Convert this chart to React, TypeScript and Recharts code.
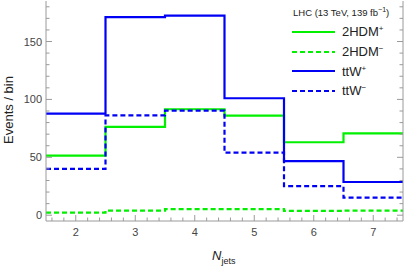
import { LineChart, Line, XAxis, YAxis } from "recharts";

const binEdges = [1.5, 2.5, 3.5, 4.5, 5.5, 6.5, 7.5];
const hdmPlus = [51.4, 76.3, 91.5, 86, 63, 70.6];
const hdmMinus = [2.3, 4, 5.2, 5.2, 3.7, 4];
const ttwPlus = [87.8, 171, 172.4, 101, 46.7, 28.7];
const ttwMinus = [40, 86.3, 90.4, 54, 25.2, 15.2];

const xMajor = [2, 3, 4, 5, 6, 7];
const yMajor = [0, 50, 100, 150];

const GREEN = "#00f000";
const BLUE = "#0000f5";
const AXIS = "#9a9a9a";
const TEXT = "#444";
const FONT = "'Liberation Sans', Arial, sans-serif";

const X_DOMAIN: [number, number] = [1.5, 7.5];
const Y_DOMAIN: [number, number] = [-5, 185];

// minor ticks every 0.2 on x and every 10 on y
const xTicks: number[] = [];
for (let i = 0; i <= 29; i++) xTicks.push(Math.round((1.6 + i * 0.2) * 10) / 10);
const yTicks: number[] = [];
for (let v = 0; v <= 180; v += 10) yTicks.push(v);

const data = binEdges.map((x, i) => {
  const k = Math.min(i, hdmPlus.length - 1);
  return {
    x,
    hdmPlus: hdmPlus[k],
    hdmMinus: hdmMinus[k],
    ttwPlus: ttwPlus[k],
    ttwMinus: ttwMinus[k],
  };
});

const series = [
  { key: "hdmPlus", name: "2HDM", sup: "+", color: GREEN, dash: undefined },
  { key: "hdmMinus", name: "2HDM", sup: "\u2212", color: GREEN, dash: "5 3" },
  { key: "ttwPlus", name: "ttW", sup: "+", color: BLUE, dash: undefined },
  { key: "ttwMinus", name: "ttW", sup: "\u2212", color: BLUE, dash: "5 3" },
];

function makeXTick(side: "bottom" | "top") {
  return (props: any) => {
    const { x, y, payload } = props;
    const v = payload.value;
    const major = xMajor.some((m) => Math.abs(m - v) < 1e-6);
    const len = major ? 6 : 3.5;
    const dir = side === "bottom" ? -1 : 1;
    return (
      <g>
        <line x1={x} x2={x} y1={y} y2={y + dir * len} stroke={AXIS} strokeWidth={1} />
        {major && side === "bottom" && (
          <text x={x} y={y + 15} textAnchor="middle" fontSize={11} fill={TEXT} fontFamily={FONT}>
            {v}
          </text>
        )}
      </g>
    );
  };
}

function makeYTick(side: "left" | "right") {
  return (props: any) => {
    const { x, y, payload } = props;
    const v = payload.value;
    const major = yMajor.includes(v);
    const len = major ? 6 : 3.5;
    const dir = side === "left" ? 1 : -1;
    return (
      <g>
        <line x1={x} x2={x + dir * len} y1={y} y2={y} stroke={AXIS} strokeWidth={1} />
        {major && side === "left" && (
          <text x={x - 4} y={y + 4} textAnchor="end" fontSize={11} fill={TEXT} fontFamily={FONT}>
            {v}
          </text>
        )}
      </g>
    );
  };
}

function LegendBox() {
  return (
    <div style={{ position: "absolute", left: 291, top: 6, fontFamily: FONT, color: "#222" }}>
      <div style={{ fontSize: 9.5, marginLeft: 2, height: 16 }}>
        LHC (13 TeV, 139 fb<sup style={{ fontSize: 7 }}>{"\u22121"}</sup>)
      </div>
      {series.map((s) => (
        <div key={s.key} style={{ display: "flex", alignItems: "center", height: 19.7 }}>
          <svg width={46} height={6} style={{ marginRight: 5 }}>
            <line x1={1} x2={44} y1={3} y2={3} stroke={s.color} strokeWidth={2} strokeDasharray={s.dash} />
          </svg>
          <span style={{ fontSize: 13 }}>
            {s.name}
            <sup style={{ fontSize: 8 }}>{s.sup}</sup>
          </span>
        </div>
      ))}
    </div>
  );
}

export default function App() {
  return (
    <div style={{ position: "absolute", left: 0, top: 0, width: 405, height: 266, background: "#fff" }}>
      <LineChart width={405} height={266} data={data} margin={{ top: 1, right: 1, bottom: 0, left: 0 }}>
        <XAxis
          xAxisId="b"
          dataKey="x"
          type="number"
          domain={X_DOMAIN}
          ticks={xTicks}
          interval={0}
          allowDataOverflow
          tickSize={0}
          tickMargin={0}
          tickLine={false}
          axisLine={{ stroke: AXIS }}
          tick={makeXTick("bottom")}
          height={45}
        />
        <XAxis
          xAxisId="t"
          orientation="top"
          dataKey="x"
          type="number"
          domain={X_DOMAIN}
          ticks={xTicks}
          interval={0}
          allowDataOverflow
          tickSize={0}
          tickMargin={0}
          tickLine={false}
          axisLine={{ stroke: AXIS }}
          tick={makeXTick("top")}
          height={0}
        />
        <YAxis
          yAxisId="l"
          type="number"
          domain={Y_DOMAIN}
          ticks={yTicks}
          interval={0}
          allowDataOverflow
          tickSize={0}
          tickMargin={0}
          tickLine={false}
          axisLine={{ stroke: AXIS }}
          tick={makeYTick("left")}
          width={46}
        />
        <YAxis
          yAxisId="r"
          orientation="right"
          type="number"
          domain={Y_DOMAIN}
          ticks={yTicks}
          interval={0}
          allowDataOverflow
          tickSize={0}
          tickMargin={0}
          tickLine={false}
          axisLine={{ stroke: AXIS }}
          tick={makeYTick("right")}
          width={1}
        />
        {series.map((s) => (
          <Line
            key={s.key}
            xAxisId="b"
            yAxisId="l"
            type="stepAfter"
            dataKey={s.key}
            stroke={s.color}
            strokeWidth={2.2}
            strokeDasharray={s.dash}
            dot={false}
            isAnimationActive={false}
          />
        ))}
        <Line xAxisId="t" yAxisId="r" dataKey="ttwPlus" stroke="none" dot={false} isAnimationActive={false} legendType="none" />
      </LineChart>
      <LegendBox />
      <svg style={{ position: "absolute", left: 0, top: 0 }} width={20} height={221}>
        <text
          x={13}
          y={110}
          transform="rotate(-90 13 110)"
          textAnchor="middle"
          fontSize={13}
          fill="#222"
          fontFamily={FONT}
        >
          Events / bin
        </text>
      </svg>
      <div
        style={{
          position: "absolute",
          left: 212,
          top: 248,
          fontFamily: FONT,
          fontSize: 13,
          color: "#222",
        }}
      >
        <i>N</i>
        <sub style={{ fontSize: 9 }}>jets</sub>
      </div>
    </div>
  );
}
